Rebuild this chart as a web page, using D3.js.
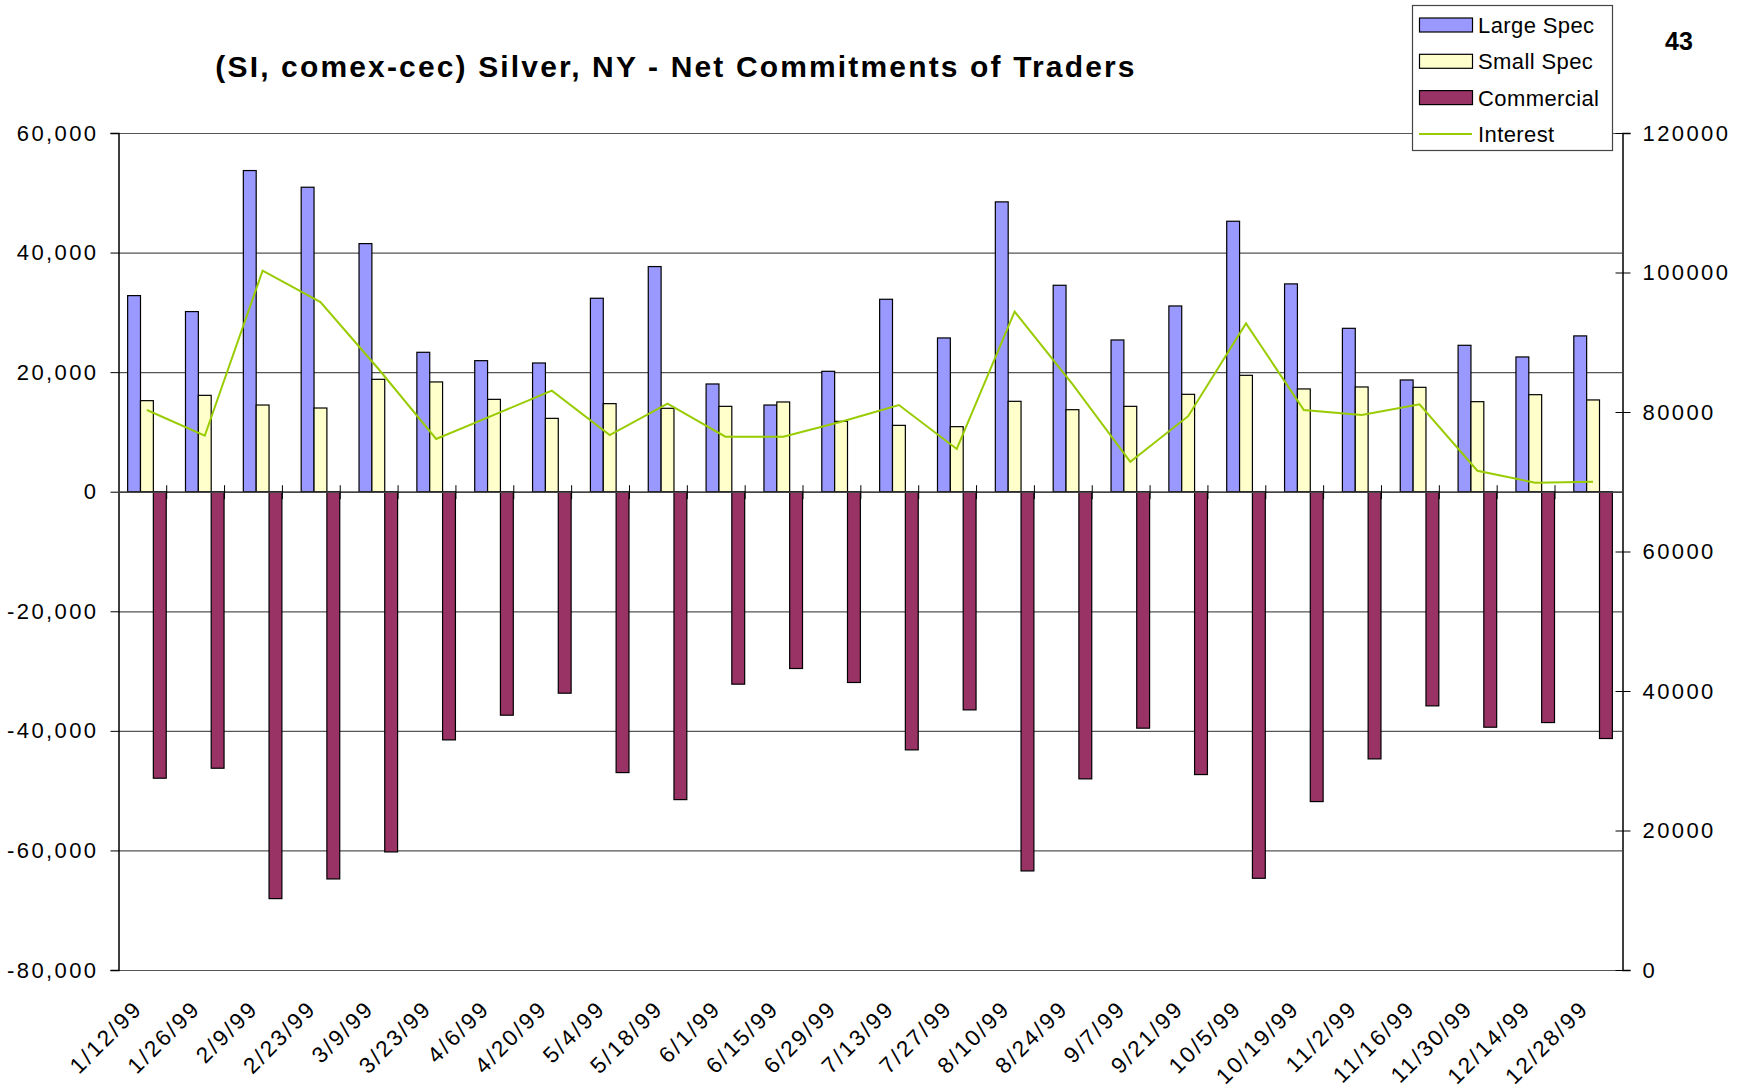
<!DOCTYPE html>
<html><head><meta charset="utf-8">
<script src="https://cdn.jsdelivr.net/npm/d3@7"></script>
<style>
body{margin:0;background:#fff}
svg{display:block}
text{font-family:"Liberation Sans",Arial,sans-serif;fill:#000}
</style>
</head><body>
<svg id="chart" width="1746" height="1088"></svg>
<script>
const dates = ["1/12/99","1/26/99","2/9/99","2/23/99","3/9/99","3/23/99","4/6/99","4/20/99","5/4/99","5/18/99","6/1/99","6/15/99","6/29/99","7/13/99","7/27/99","8/10/99","8/24/99","9/7/99","9/21/99","10/5/99","10/19/99","11/2/99","11/16/99","11/30/99","12/14/99","12/28/99"];
const largeSpec = [32800,30130,53720,50930,41500,23320,21920,21530,32360,37660,18020,14500,20140,32190,25720,48480,34530,25380,31070,45240,34760,27330,18690,24490,22540,26060];
const smallSpec = [15230,16120,14500,14000,18800,18360,15450,12270,14730,13950,14280,15010,11770,11100,10880,15120,13720,14280,16290,19470,17190,17520,17460,15060,16230,15350];
const commercial = [-47920,-46250,-68060,-64770,-60250,-41510,-37380,-33700,-46980,-51500,-32190,-29570,-31910,-43180,-36490,-63430,-48030,-39550,-47310,-64660,-51830,-44690,-35820,-39390,-38610,-41280];
const interest = [80290,76600,100260,95770,86200,76130,79590,83060,76700,81200,76460,76460,78610,81000,74700,94380,84000,72870,79400,92700,80290,79570,81100,71580,69860,70000];
const leftTicks = [-80000,-60000,-40000,-20000,0,20000,40000,60000];
const rightTicks = [0,20000,40000,60000,80000,100000,120000];
const barSeries = ["Large Spec","Small Spec","Commercial"];
const lineSeries = "Interest";
const titleText = "(SI, comex-cec) Silver, NY - Net Commitments of Traders";
const pageNumber = "43";

const colors = {"Large Spec":"#9999FF","Small Spec":"#FFFFCC","Commercial":"#993366","Interest":"#99CC00"};
const X0 = 118, X1 = 1622, Y0 = 970, Y1 = 133;

const svg = d3.select("#chart");
const yL = d3.scaleLinear().domain([-80000,60000]).range([Y0,Y1]);
const yR = d3.scaleLinear().domain([0,120000]).range([Y0,Y1]);
const x = d3.scaleBand().domain(dates).range([X0,X1]).paddingInner(1/3).paddingOuter(1/6);
const xs = d3.scaleBand().domain(barSeries).range([0,x.bandwidth()]);
const cx = d => x(d) + x.bandwidth()/2;
const fmtL = v => d3.format(",")(v).replace("\u2212","-");

// gridlines
svg.append("g").selectAll("line").data(leftTicks).join("line")
  .attr("x1",X0).attr("x2",X1).attr("y1",d=>yL(d)+0.5).attr("y2",d=>yL(d)+0.5)
  .attr("stroke","#555").attr("stroke-width",1.2);

// left axis
const axL = svg.append("g").attr("transform",`translate(${X0+0.5},0)`)
  .call(d3.axisLeft(yL).tickValues(leftTicks).tickSize(8).tickPadding(12).tickFormat(fmtL));
axL.select(".domain").attr("stroke","#000").attr("stroke-width",1.5);
axL.selectAll(".tick line").attr("stroke","#000");
axL.selectAll("text").style("font-size","22px").style("letter-spacing","2.4px").attr("fill","#000");

// right axis
const axR = svg.append("g").attr("transform",`translate(${X1+0.5},0)`)
  .call(d3.axisRight(yR).tickValues(rightTicks).tickSize(8).tickPadding(12).tickFormat(d3.format("d")));
axR.select(".domain").attr("stroke","#000").attr("stroke-width",1.5);
axR.selectAll(".tick line").attr("stroke","#000").attr("x1",-7);
axR.selectAll("text").style("font-size","22px").style("letter-spacing","2.4px").attr("fill","#000");

// bars
const rows = dates.map((d,i)=>({date:d, vals:[largeSpec[i],smallSpec[i],commercial[i]]}));
const g = svg.append("g");
rows.forEach(r=>{
  r.vals.forEach((v,k)=>{
    const s = barSeries[k];
    g.append("rect")
      .attr("x", x(r.date)+xs(s))
      .attr("width", xs.bandwidth())
      .attr("y", Math.min(yL(v),yL(0)))
      .attr("height", Math.abs(yL(v)-yL(0)))
      .attr("fill", colors[s]).attr("stroke","#000").attr("stroke-width",1.2);
  });
});

// category axis at zero
const z = yL(0)+0.5;
svg.append("line").attr("x1",X0).attr("x2",X1).attr("y1",z).attr("y2",z).attr("stroke","#444").attr("stroke-width",1.5);
svg.append("g").selectAll("line").data(dates.slice(1)).join("line")
  .attr("x1",d=>x(d)-x.step()/3+0.5).attr("x2",d=>x(d)-x.step()/3+0.5)
  .attr("y1",z-7).attr("y2",z+7).attr("stroke","#000").attr("stroke-width",1);

// interest line
svg.append("path").datum(interest)
  .attr("d", d3.line().x((v,i)=>cx(dates[i])).y(v=>yR(v)))
  .attr("fill","none").attr("stroke",colors[lineSeries]).attr("stroke-width",2);

// x labels
svg.append("g").selectAll("text").data(dates).join("text")
  .attr("transform",d=>`translate(${cx(d)-3},1010) rotate(-45)`)
  .attr("text-anchor","end")
  .style("font-size","22.5px").style("letter-spacing","2.4px")
  .text(d=>d);

// title
svg.append("text").attr("x",676).attr("y",77).attr("text-anchor","middle")
  .style("font-size","30px").style("font-weight","bold").style("letter-spacing","2.15px")
  .text(titleText);
svg.append("text").attr("x",1679).attr("y",50).attr("text-anchor","middle")
  .style("font-size","25px").style("font-weight","bold").text(pageNumber);

// legend
const lg = svg.append("g");
lg.append("rect").attr("x",1412.5).attr("y",5.5).attr("width",200).attr("height",145)
  .attr("fill","#fff").attr("stroke","#444").attr("stroke-width",1.2);
const legItems = barSeries.concat([lineSeries]);
legItems.forEach((s,i)=>{
  const cy = 25 + i*36.3;
  if (s === lineSeries) {
    lg.append("line").attr("x1",1419).attr("x2",1472).attr("y1",cy).attr("y2",cy)
      .attr("stroke",colors[s]).attr("stroke-width",2);
  } else {
    lg.append("rect").attr("x",1419.5).attr("y",cy-7).attr("width",53).attr("height",14)
      .attr("fill",colors[s]).attr("stroke","#000").attr("stroke-width",1.2);
  }
  lg.append("text").attr("x",1478).attr("y",cy+8).style("font-size","22px").style("letter-spacing","0.4px").text(s);
});
</script>
</body></html>
